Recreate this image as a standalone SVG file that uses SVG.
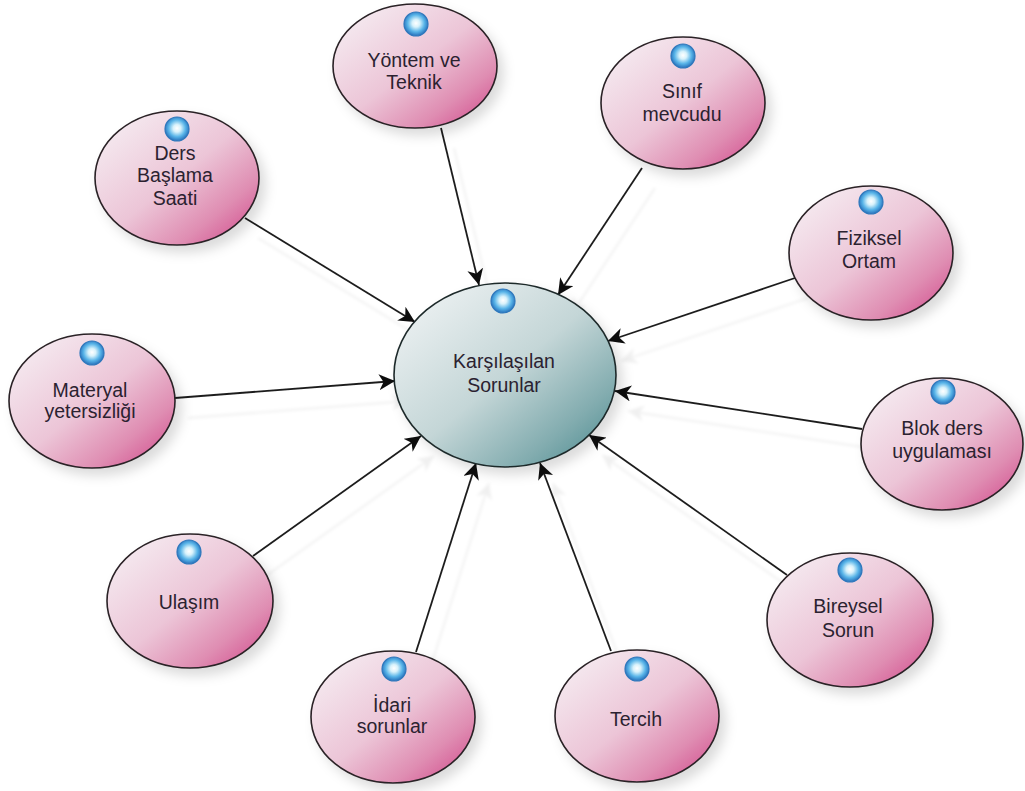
<svg xmlns="http://www.w3.org/2000/svg" width="1025" height="791" viewBox="0 0 1025 791">
<defs>
<linearGradient id="pink" x1="0.1" y1="0.1" x2="0.9" y2="0.9"><stop offset="0" stop-color="#f5eaf0"/><stop offset="0.5" stop-color="#ecc5d7"/><stop offset="0.82" stop-color="#df8db2"/><stop offset="1" stop-color="#d65f98"/></linearGradient>
<linearGradient id="teal" x1="0.1" y1="0.1" x2="0.9" y2="0.9"><stop offset="0" stop-color="#ebf0f1"/><stop offset="0.5" stop-color="#c4d6d7"/><stop offset="0.85" stop-color="#82acaf"/><stop offset="1" stop-color="#5f979b"/></linearGradient>
<radialGradient id="ball" cx="0.5" cy="0.47" r="0.52"><stop offset="0" stop-color="#ffffff"/><stop offset="0.3" stop-color="#d8f2fb"/><stop offset="0.68" stop-color="#58b4e8"/><stop offset="1" stop-color="#2a74bd"/></radialGradient>
<filter id="sh" x="-20%" y="-20%" width="150%" height="150%"><feDropShadow dx="6" dy="7" stdDeviation="6" flood-color="#000" flood-opacity="0.14"/></filter>
<filter id="ghost" x="0" y="0" width="1025" height="791" filterUnits="userSpaceOnUse"><feDropShadow dx="13" dy="20" stdDeviation="1.5" flood-color="#000" flood-opacity="0.06"/></filter>
<marker id="arrow" viewBox="0 0 16 16" refX="16" refY="8" markerWidth="16" markerHeight="16" markerUnits="userSpaceOnUse" orient="auto"><path d="M16 8L0 0L4.5 8L0 16Z" fill="#0c0c0c"/></marker>
<g id="orb"><circle r="12" fill="url(#ball)" stroke="#2f78bc" stroke-width="1.2"/></g>
</defs>
<style>
.n{fill:url(#pink);stroke:#2a2226;stroke-width:1.6;filter:url(#sh)}
.c{fill:url(#teal);stroke:#1f2a2b;stroke-width:1.6;filter:url(#sh)}
text{font-family:"Liberation Sans",Arial,sans-serif;font-size:19.5px;fill:#2b2230;text-anchor:middle}
#connectors line{stroke:#1f1f1f;stroke-width:1.8;marker-end:url(#arrow)}
</style>
<rect width="1025" height="791" fill="#fff"/>
<g id="connectors" style="filter:url(#ghost)">
<line x1="441" y1="128" x2="479" y2="285"/>
<line x1="642" y1="168" x2="558" y2="295"/>
<line x1="245" y1="218" x2="415" y2="322"/>
<line x1="795" y1="278" x2="608" y2="341"/>
<line x1="175" y1="398" x2="395" y2="381"/>
<line x1="862" y1="429" x2="615" y2="391"/>
<line x1="253" y1="556" x2="421" y2="436"/>
<line x1="787" y1="575" x2="589" y2="435"/>
<line x1="416" y1="652" x2="476" y2="463"/>
<line x1="611" y1="651" x2="540" y2="463"/>
</g>
<g id="center"><ellipse class="c" cx="505" cy="375" rx="111" ry="92"/><use href="#orb" x="503" y="301"/><text x="504" y="368">Karşılaşılan</text><text x="504" y="392">Sorunlar</text></g>
<g id="yontem"><ellipse class="n" cx="415" cy="66" rx="82" ry="62"/><use href="#orb" x="416" y="24"/><text x="414" y="67">Yöntem ve</text><text x="414" y="89">Teknik</text></g>
<g id="sinif"><ellipse class="n" cx="683" cy="103" rx="82" ry="66"/><use href="#orb" x="683" y="56"/><text x="682" y="98">Sınıf</text><text x="682" y="121">mevcudu</text></g>
<g id="ders"><ellipse class="n" cx="177" cy="178" rx="82" ry="67"/><use href="#orb" x="177" y="129"/><text x="175" y="160">Ders</text><text x="175" y="182">Başlama</text><text x="175" y="205">Saati</text></g>
<g id="fiziksel"><ellipse class="n" cx="871" cy="253" rx="82" ry="67"/><use href="#orb" x="871" y="202"/><text x="869" y="245">Fiziksel</text><text x="869" y="268">Ortam</text></g>
<g id="materyal"><ellipse class="n" cx="92" cy="401" rx="83" ry="67"/><use href="#orb" x="92" y="353"/><text x="90" y="397">Materyal</text><text x="90" y="418">yetersizliği</text></g>
<g id="blok"><ellipse class="n" cx="942" cy="444" rx="81" ry="66"/><use href="#orb" x="943" y="392"/><text x="942" y="435">Blok ders</text><text x="942" y="458">uygulaması</text></g>
<g id="ulasim"><ellipse class="n" cx="190" cy="601" rx="83" ry="67"/><use href="#orb" x="189" y="552"/><text x="189" y="609">Ulaşım</text></g>
<g id="bireysel"><ellipse class="n" cx="850" cy="620" rx="83" ry="67"/><use href="#orb" x="850" y="570"/><text x="848" y="613">Bireysel</text><text x="848" y="637">Sorun</text></g>
<g id="idari"><ellipse class="n" cx="393" cy="717" rx="82" ry="66"/><use href="#orb" x="394" y="669"/><text x="392" y="712">İdari</text><text x="392" y="733">sorunlar</text></g>
<g id="tercih"><ellipse class="n" cx="637" cy="716" rx="82" ry="66"/><use href="#orb" x="637" y="669"/><text x="636" y="726">Tercih</text></g>
</svg>
